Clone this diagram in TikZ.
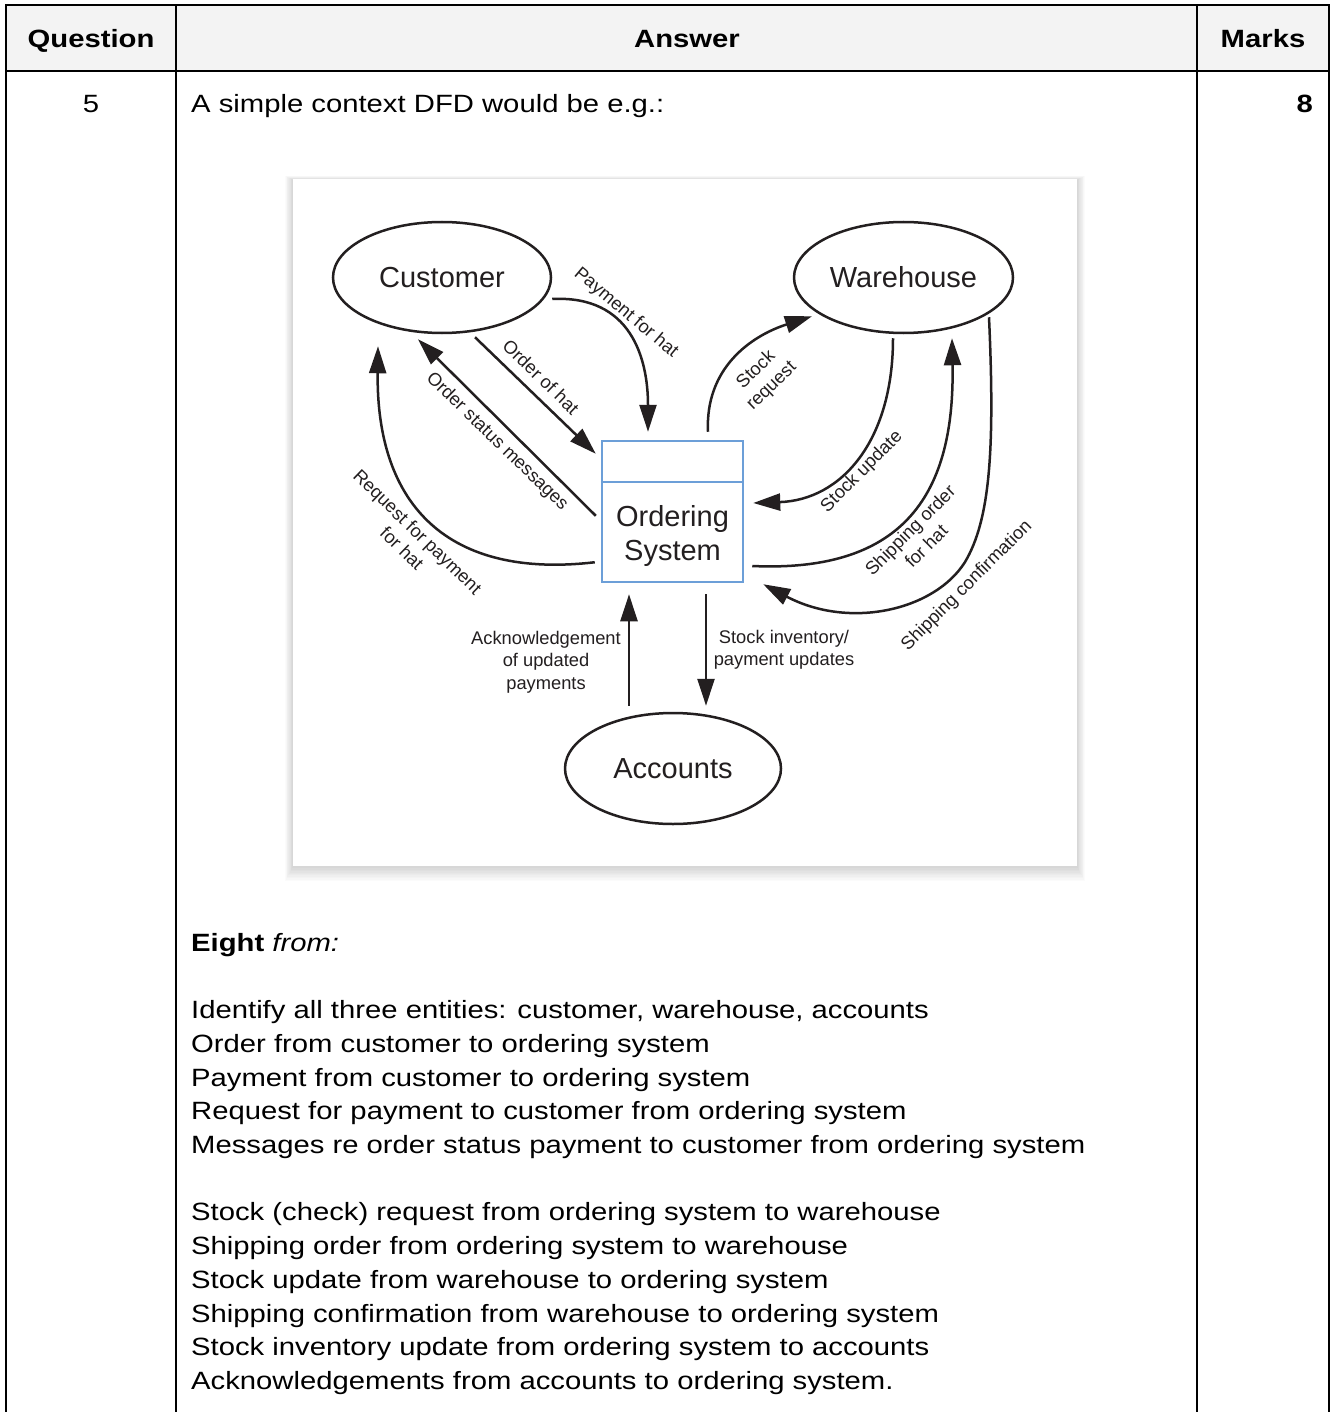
\documentclass[tikz,border=0pt]{standalone}
\usepackage{fontspec}
\setmainfont{Liberation Sans}
\newfontfamily\tblfont{Liberation Sans}[FakeStretch=1.17]
\usetikzlibrary{arrows.meta,shapes.geometric,calc}
\definecolor{hdrgray}{HTML}{F3F3F3}
\definecolor{osblue}{HTML}{6C9FD8}
\definecolor{ink}{HTML}{231F20}
\begin{document}
\begin{tikzpicture}[x=1pt,y=-1pt,
  tbl/.style={draw=black,line width=2pt},
  hdr/.style={anchor=base,font=\tblfont\fontsize{25}{30}\selectfont\bfseries,inner sep=0pt},
  ans/.style={anchor=base west,font=\tblfont\fontsize{25}{34}\selectfont,inner sep=0pt},
  entity/.style={ellipse,draw=ink,line width=2.5pt,inner sep=0pt,minimum width=218pt,minimum height=111pt,font=\fontsize{29}{34}\selectfont,text=ink},
  flow/.style={draw=ink,line width=2.5pt,-{Triangle[length=27pt,width=17pt]}},
  flowlbl/.style={font=\fontsize{18.3}{22.5}\selectfont,text=ink,align=center,inner sep=0pt}]
\useasboundingbox (0,0) rectangle (1331,1412);
\fill[white] (0,0) rectangle (1331,1412);
% header background
\fill[hdrgray] (6,5) rectangle (1329,71);
% header texts
\node[hdr] (hq) at (91,48) {Question};
\node[hdr] (ha) at (687,48) {Answer};
\node[hdr] (hm) at (1263,48) {Marks};
% row texts
\node[ans,anchor=base] (qn) at (91,113) {5};
\node[ans] (intro) at (191,113) {A simple context DFD would be e.g.:};
\node[ans,anchor=base east,font=\tblfont\fontsize{25}{34}\selectfont\bfseries] (mk) at (1313,113) {8};
% diagram box with shadow
\foreach \i in {1,...,10}{
  \fill[black,opacity=0.017] (293-0.8*\i,179-0.4*\i+1) rectangle (1077+0.8*\i,866+1.4*\i+1);
}
\node[fill=white,inner sep=0pt,minimum width=784pt,minimum height=687pt] (box) at (685,522.5) {};
% entities
\node[entity] (cust) at (442,277.5) {Customer};
\node[entity,minimum width=219pt] (wh) at (903.5,277.5) {Warehouse};
\node[entity,minimum width=216pt] (acc) at (673,768.5) {Accounts};
% process
\node[draw=osblue,line width=2.5pt,inner sep=0pt,minimum width=141pt,minimum height=141pt] (os) at (672.5,511.5) {};
\draw[draw=osblue,line width=2.5pt] ([shift={(0,42)}]os.north west) -- ([shift={(0,42)}]os.north east);
\node[font=\fontsize{29}{34}\selectfont,text=ink,align=center,inner sep=0pt] (ostxt) at (672.5,536) {Ordering\\System};
% flows
\draw[flow] ([shift={(0,21.5)}]cust.east) .. controls +(79,-4) and +(0,-73) .. ([shift={(-24.5,-8)}]os.north);
\draw[flow] ([shift={(33,3)}]cust.south) -- ([shift={(-5,14)}]os.north west);
\draw[flow] ([shift={(-5,76)}]os.north west) -- ([shift={(-24,5)}]cust.south);
\draw[flow] ([shift={(-6,-21)}]os.south west) .. controls +(-146,17) and +(-2,160) .. ([shift={(-64,12)}]cust.south);
\draw[flow] ([shift={(35.5,-8)}]os.north) .. controls +(-3,-63) and +(-62,20) .. ([shift={(-91.5,-18)}]wh.south);
\draw[flow] ([shift={(-10.5,4)}]wh.south) .. controls +(0,103) and +(88,-3) .. ([shift={(9,-8.5)}]os.east);
\draw[flow] ([shift={(8,54.5)}]os.east) .. controls +(154,7) and +(3,153) .. ([shift={(48.5,4)}]wh.south);
\draw[flow] ([shift={(85.5,-17)}]wh.south) .. controls (995,450) and (990,520) .. (965,562) .. controls (935,610) and (850,630) .. ([shift={(19,1)}]os.south east);
\draw[flow] ([shift={(-44,-6)}]acc.north) -- ([shift={(-43.5,11)}]os.south);
\draw[flow] ([shift={(33.5,11)}]os.south) -- ([shift={(33,-6)}]acc.north);
% flow labels
\node[flowlbl,rotate=-40] (lpay) at (626,313) {Payment for hat};
\node[flowlbl,rotate=-44] (lord) at (541,377) {Order of hat};
\node[flowlbl,rotate=-44] (lstat) at (497,442) {Order status messages};
\node[flowlbl,rotate=-44] (lreq) at (410,540) {Request for payment\\for hat};
\node[flowlbl,rotate=44] (lsreq) at (764,378) {Stock\\request};
\node[flowlbl,rotate=45] (lsup) at (862,472) {Stock update};
\node[flowlbl,rotate=45] (lship) at (918,538) {Shipping order\\for hat};
\node[flowlbl,rotate=45] (lconf) at (967,586) {Shipping confirmation};
\node[flowlbl] (lack) at (546,662) {Acknowledgement\\of updated\\payments};
\node[flowlbl] (linv) at (784,650) {Stock inventory/\\payment updates};
% answer text
\node[ans] (a0) at (191,951) {\textbf{Eight} \textit{from:}};
\node[ans] (a1) at (191,1018) {Identify all three entities: customer, warehouse, accounts};
\node[ans] (a2) at (191,1052) {Order from customer to ordering system};
\node[ans] (a3) at (191,1086) {Payment from customer to ordering system};
\node[ans] (a4) at (191,1119) {Request for payment to customer from ordering system};
\node[ans] (a5) at (191,1153) {Messages re order status payment to customer from ordering system};
\node[ans] (a6) at (191,1220) {Stock (check) request from ordering system to warehouse};
\node[ans] (a7) at (191,1254) {Shipping order from ordering system to warehouse};
\node[ans] (a8) at (191,1288) {Stock update from warehouse to ordering system};
\node[ans] (a9) at (191,1322) {Shipping confirmation from warehouse to ordering system};
\node[ans] (a10) at (191,1355) {Stock inventory update from ordering system to accounts};
\node[ans] (a11) at (191,1389) {Acknowledgements from accounts to ordering system.};
% table lines
\draw[tbl] (5,5) -- (1330,5);
\draw[tbl] (5,71) -- (1330,71);
\draw[tbl] (6,5) -- (6,1412);
\draw[tbl] (176,5) -- (176,1412);
\draw[tbl] (1197,5) -- (1197,1412);
\draw[tbl] (1329,5) -- (1329,1412);
\end{tikzpicture}
\end{document}
